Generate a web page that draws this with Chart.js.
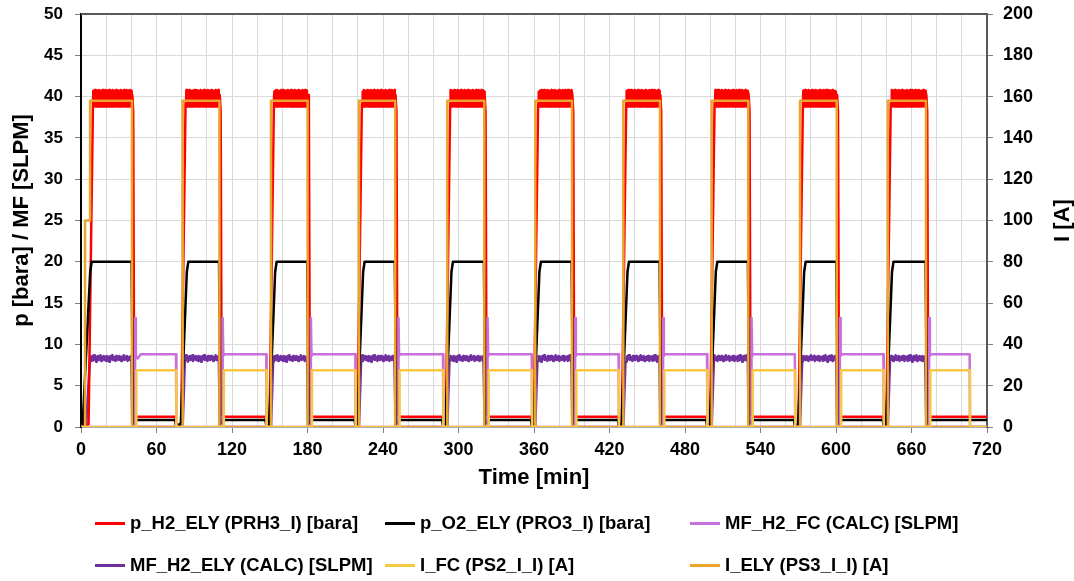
<!DOCTYPE html>
<html>
<head>
<meta charset="utf-8">
<script src="https://cdn.jsdelivr.net/npm/chart.js@4.4.1/dist/chart.umd.min.js"></script>
<style>
  html, body { margin:0; padding:0; background:#fff; }
  #wrap { position:relative; width:1074px; height:581px; }
  canvas { position:absolute; left:0; top:0; }
  .lg { position:absolute; display:flex; align-items:center; font: bold 18.5px "Liberation Sans", Arial, sans-serif; color:#000; white-space:nowrap; height:24px; }
  .lg .mk { display:inline-block; width:30px; height:3px; margin-right:5px; }
</style>
</head>
<body>
<div id="wrap">
  <canvas id="c" width="1074" height="581"></canvas>
</div>
<script>
// ---- values ----
const seriesLabels = ["p_H2_ELY (PRH3_I) [bara]", "p_O2_ELY (PRO3_I) [bara]", "MF_H2_FC (CALC) [SLPM]",
                      "MF_H2_ELY (CALC) [SLPM]", "I_FC (PS2_I_I) [A]", "I_ELY (PS3_I_I) [A]"];
const xTickLabels = [0, 60, 120, 180, 240, 300, 360, 420, 480, 540, 600, 660, 720];
const yLeftTicks = [0, 5, 10, 15, 20, 25, 30, 35, 40, 45, 50];
const yRightTicks = [0, 20, 40, 60, 80, 100, 120, 140, 160, 180, 200];

// cycle timing [min]
const riseT    = [7.2, 80.8, 151.0, 220.9, 291.1, 361.0, 431.0, 501.2, 571.4, 641.2];  // I_ELY step up
const dropT    = [40.5, 110.0, 180.1, 249.7, 320.5, 390.2, 460.1, 530.3, 600.6, 671.5]; // I_ELY step down
const lowEndT  = [75.8, 147.5, 218.3, 288.0, 358.5, 427.5, 497.8, 567.6, 638.0, 706.5]; // FC phase end
const o2RiseStart = [1.3, 79.3, 149.5, 219.4, 289.6, 359.5, 429.5, 499.7, 569.9, 639.7];
const o2Top       = [8.5, 85.3, 155.5, 225.4, 295.6, 365.5, 435.5, 505.7, 575.9, 645.7];
const mfElyStart  = [4.0, 80.8, 151.0, 220.9, 291.1, 361.0, 431.0, 501.2, 571.4, 641.2];
const mfElyOn     = [7.0, 82.5, 152.7, 222.6, 292.8, 362.7, 432.7, 502.9, 573.1, 642.9];

// levels
const iElyHigh = 158;           // A
const iElyFirstStep = [[3.2, 0], [3.2, 100], [7.2, 100]];   // first start-up step
const iFcLevel = 27.5;          // A
const pH2Low = 1.25, pO2High = 20, pO2Low = 0.85;
const mfFcSpike = 13.2, mfFcLevel = 8.8;

// H2 pressure ripple on the plateau (bara), read every 0.35 min
const h2Ripple = [40.7,38.8,40.6,38.9,40.8,38.8,40.6,38.9,40.7,38.8,40.6,38.8,40.8,38.9,40.7,38.8,40.6,38.8,40.7,38.9,
                  40.6,38.8,40.8,38.8,40.7,38.9,40.6,38.8,40.8,38.8,40.6,38.9,40.7,38.8,40.6,38.8,40.8,38.8,40.7,38.9,
                  40.6,38.8,40.7,38.8,40.8,38.9,40.6,38.8,40.7,38.8,40.6,38.9,40.8,38.8,40.7,38.8,40.6,38.9,40.7,38.8,
                  40.6,38.8,40.8,38.8,40.7,38.9,40.6,38.8,40.7,38.8,40.8,38.9,40.6,38.8,40.7,38.8,40.8,38.8,40.6,38.9,
                  40.7,38.8,40.8,38.8,40.6,38.9,40.7,38.8,40.6,38.8,40.8,38.9,40.7,38.8,40.6,38.8];
// MF_H2_ELY noise on the plateau (SLPM), read every 0.5 min
const mfElyNoise = [8.2,8.5,8.0,8.6,8.3,8.1,8.7,8.2,8.4,7.9,8.5,8.3,8.6,8.1,8.4,8.2,8.7,8.0,8.5,8.3,
                    8.2,8.6,8.1,8.4,8.5,8.0,8.6,8.3,8.2,8.5,7.9,8.4,8.6,8.2,8.3,8.7,8.1,8.5,8.2,8.4,
                    8.0,8.6,8.3,8.5,8.1,8.4,8.6,8.2,8.3,8.0,8.5,8.4,8.2,8.7,8.1,8.3,8.5,8.2,8.6,8.0,
                    8.4,8.3,8.5,8.1,8.2,8.6,8.4,8.0,8.5,8.3];

const colors = ["#FF0000", "#000000", "#C76FDB", "#7030A0", "#F7C844", "#EBA52B"];

// ---- build series ----
const last = riseT.length - 1;
function pH2() {
  const p = [{x:0, y:0.3}];
  riseT.forEach((R, k) => {
    const D = dropT[k], L = lowEndT[k];
    p.push({x:R-1.2, y:0.3}, {x:R+2.3, y:39.2});
    let i = k * 3;
    for (let t = R + 2.6; t <= D; t += 0.35) { p.push({x:t, y:h2Ripple[i % h2Ripple.length]}); i++; }
    p.push({x:D+0.3, y:40.2}, {x:D+1.0, y:38.2}, {x:D+1.8, y:1.6}, {x:D+3.5, y:pH2Low});
    if (k === last) { p.push({x:720, y:pH2Low}); }
    else { p.push({x:L-0.8, y:pH2Low}, {x:L-0.3, y:0.3}); }
  });
  return p;
}
function pO2() {
  const p = [{x:0, y:0.3}];
  riseT.forEach((R, k) => {
    const D = dropT[k], L = lowEndT[k];
    p.push({x:o2RiseStart[k], y:0.3}, {x:o2Top[k]-1.2, y:18.8}, {x:o2Top[k], y:pO2High},
           {x:D-0.3, y:pO2High}, {x:D+0.8, y:0.4}, {x:D+3.5, y:pO2Low});
    if (k === last) { p.push({x:720, y:pO2Low}); }
    else { p.push({x:L-0.8, y:pO2Low}, {x:L-0.3, y:0.2}); }
  });
  return p;
}
function mfFc() {
  const p = [{x:0, y:0}];
  riseT.forEach((R, k) => {
    const D = dropT[k], L = lowEndT[k];
    p.push({x:D+2.3, y:0}, {x:D+2.6, y:mfFcSpike}, {x:D+3.1, y:8.6});
    if (k === 0) p.push({x:D+4.5, y:8.3}, {x:D+7, y:mfFcLevel});
    else p.push({x:D+3.9, y:mfFcLevel});
    p.push({x:L-0.3, y:mfFcLevel}, {x:L, y:0});
  });
  p.push({x:720, y:0});
  return p;
}
function mfEly() {
  const p = [{x:0, y:0}];
  riseT.forEach((R, k) => {
    const D = dropT[k];
    p.push({x:mfElyStart[k], y:0}, {x:mfElyOn[k], y:7.9});
    let i = k * 5;
    for (let t = mfElyOn[k] + 0.5; t <= D - 0.3; t += 0.5) { p.push({x:t, y:mfElyNoise[i % mfElyNoise.length]}); i++; }
    p.push({x:D+0.3, y:0});
  });
  p.push({x:720, y:0});
  return p;
}
function iFc() {
  const p = [{x:0, y:0}];
  riseT.forEach((R, k) => {
    const D = dropT[k], L = lowEndT[k];
    p.push({x:D+3.5, y:0}, {x:D+3.5, y:iFcLevel}, {x:L, y:iFcLevel}, {x:L, y:0});
  });
  p.push({x:720, y:0});
  return p;
}
function iEly() {
  const p = [{x:0, y:0}];
  riseT.forEach((R, k) => {
    const D = dropT[k];
    if (k === 0) iElyFirstStep.forEach(([x, y]) => p.push({x, y}));
    else p.push({x:R, y:0});
    p.push({x:R, y:iElyHigh}, {x:D, y:iElyHigh}, {x:D, y:0});
  });
  p.push({x:720, y:0});
  return p;
}

const seriesData = [pH2(), pO2(), mfFc(), mfEly(), iFc(), iEly()];
const axisOf = ["y", "y", "y", "y", "y2", "y2"];
const drawOrder = [5, 4, 3, 6, 1, 2];   // lower = on top

// ---- legend (HTML) ----
const legendPos = [[95, 511], [385, 511], [690, 511], [95, 553], [385, 553], [690, 553]];
seriesLabels.forEach((lab, i) => {
  const d = document.createElement('div');
  d.className = 'lg';
  d.style.left = legendPos[i][0] + 'px';
  d.style.top = legendPos[i][1] + 'px';
  const m = document.createElement('span'); m.className = 'mk'; m.style.background = colors[i];
  const t = document.createElement('span'); t.textContent = lab;
  d.appendChild(m); d.appendChild(t);
  document.getElementById('wrap').appendChild(d);
});

const FONT = '"Liberation Sans", Arial, sans-serif';
const frame = {
  id: 'frame',
  afterDatasetsDraw(chart) {
    const {ctx, chartArea: a} = chart;
    ctx.save();
    ctx.strokeStyle = '#595959'; ctx.lineWidth = 2;
    ctx.beginPath(); ctx.moveTo(a.left, a.top); ctx.lineTo(a.right, a.top); ctx.stroke();
    ctx.restore();
  },
  afterDraw(chart) {
    const {ctx, chartArea: a} = chart;
    ctx.save();
    ctx.fillStyle = '#000';
    ctx.font = 'bold 22px ' + FONT;
    ctx.translate(1063, (a.top + a.bottom) / 2);
    ctx.rotate(-Math.PI / 2);
    ctx.textAlign = 'center'; ctx.textBaseline = 'middle';
    ctx.fillText('I [A]', 0, 0);
    ctx.restore();
  }
};

new Chart(document.getElementById('c'), {
  type: 'line',
  data: {
    datasets: seriesData.map((d, i) => ({
      label: seriesLabels[i], data: d, yAxisID: axisOf[i], order: drawOrder[i],
      borderColor: colors[i], backgroundColor: colors[i],
      borderWidth: 2.5, pointRadius: 0, tension: 0, fill: false, borderJoinStyle: 'round'
    }))
  },
  options: {
    responsive: false, animation: false, devicePixelRatio: 1,
    layout: { padding: { top: 14, bottom: 90, left: 0, right: 0 } },
    plugins: { legend: { display: false }, tooltip: { enabled: false } },
    scales: {
      x: {
        type: 'linear', min: 0, max: 720,
        afterBuildTicks: s => { s.ticks = []; for (let v = 0; v <= 720; v += 20) s.ticks.push({value: v}); },
        afterFit: s => { s.height = 64; s.paddingLeft = 0; s.paddingRight = 0; },
        ticks: { autoSkip: false, maxRotation: 0, padding: 6, color: '#000',
                 font: { family: FONT, size: 18, weight: 'bold' },
                 callback: v => xTickLabels.includes(v) ? String(v) : '' },
        grid: { color: '#D9D9D9', lineWidth: 1, tickLength: 6,
                tickColor: c => (c.tick && xTickLabels.includes(c.tick.value)) ? '#7F7F7F' : 'rgba(0,0,0,0)' },
        border: { display: true, color: '#7F7F7F', width: 1.5 },
        title: { display: true, text: 'Time [min]', color: '#000', padding: { top: 0, bottom: 0 },
                 font: { family: FONT, size: 22, weight: 'bold' } }
      },
      y: {
        position: 'left', min: 0, max: 50,
        afterBuildTicks: s => { s.ticks = yLeftTicks.map(v => ({value: v})); },
        afterFit: s => { s.width = 81; s.paddingTop = 0; s.paddingBottom = 0; },
        ticks: { padding: 12, color: '#000', font: { family: FONT, size: 17, weight: 'bold' } },
        grid: { color: '#D9D9D9', lineWidth: 1, tickLength: 6, tickColor: '#7F7F7F' },
        border: { display: true, color: '#000', width: 2 },
        title: { display: true, text: 'p [bara] / MF [SLPM]', color: '#000', padding: { top: 9, bottom: 0 },
                 font: { family: FONT, size: 22, weight: 'bold' } }
      },
      y2: {
        position: 'right', min: 0, max: 200,
        afterBuildTicks: s => { s.ticks = yRightTicks.map(v => ({value: v})); },
        afterFit: s => { s.width = 87; s.paddingTop = 0; s.paddingBottom = 0; },
        ticks: { padding: 10, color: '#000', font: { family: FONT, size: 18, weight: 'bold' } },
        grid: { drawOnChartArea: false, tickLength: 6, tickColor: '#7F7F7F' },
        border: { display: true, color: '#595959', width: 2 }
      }
    }
  },
  plugins: [frame]
});
</script>
</body>
</html>
